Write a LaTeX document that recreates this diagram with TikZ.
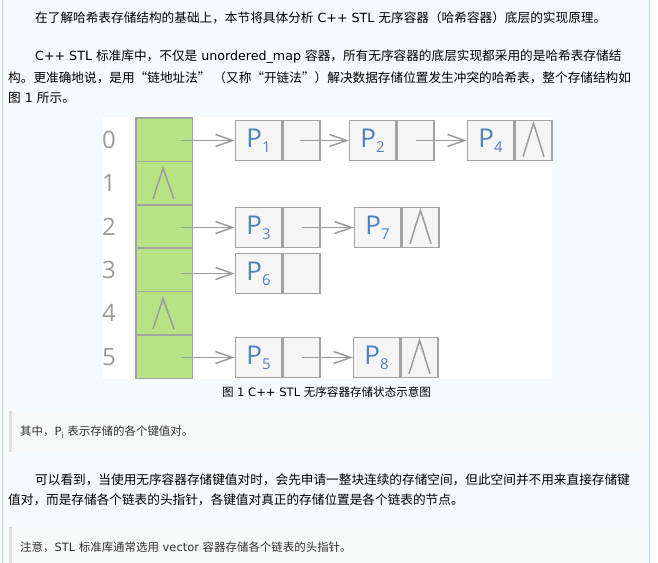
\documentclass[tikz,border=0pt]{standalone}
\usepackage{fontspec}
\setmainfont{DejaVu Sans}
\newfontfamily\cjk{Noto Sans CJK SC}
\newfontfamily\latf{DejaVu Sans}
\newfontfamily\figf{Open Sans}
\usetikzlibrary{arrows.meta,calc}
\newcommand\ltn[1]{{\latf #1}}
\newcommand\plab[1]{{\fontsize{26}{26}\selectfont P}\raisebox{-5bp}{\fontsize{15}{15}\selectfont #1}}
\definecolor{pagebg}{HTML}{F5FAFE}
\definecolor{borderc}{HTML}{B3D4F2}
\definecolor{quotebg}{HTML}{F7F8F8}
\definecolor{quotebar}{HTML}{DDDDDD}
\definecolor{qtext}{HTML}{333333}
\definecolor{gfill}{HTML}{B7E385}
\definecolor{boxfill}{HTML}{F5F5F5}
\definecolor{boxdraw}{HTML}{A3A3A3}
\definecolor{arrowc}{HTML}{9B9B9B}
\definecolor{pblue}{HTML}{4F81BD}
\definecolor{digitc}{HTML}{9B9B9B}
\begin{document}
\begin{tikzpicture}[x=1bp,y=-1bp,
  txt/.style={anchor=west,inner sep=0,font=\cjk\fontsize{12.7}{15}\selectfont,text=black},
  qtxt/.style={anchor=west,inner sep=0,font=\cjk\fontsize{11.5}{14}\selectfont,text=qtext},
  gcell/.style={draw=boxdraw,fill=gfill,line width=1.5bp,minimum width=56.5bp,minimum height=43.4bp,inner sep=0},
  dcell/.style={draw=boxdraw,fill=boxfill,line width=1.5bp,minimum width=46bp,minimum height=40bp,inner sep=0,anchor=west,font=\figf,text=pblue},
  pcell/.style={draw=boxdraw,fill=boxfill,line width=1.5bp,minimum width=37bp,minimum height=40bp,inner sep=0,anchor=west},
  idx/.style={font=\figf\fontsize{24}{24}\selectfont,text=digitc,inner sep=0},
  arr/.style={draw=arrowc,line width=1.5bp,-{Straight Barb[length=17bp,width=12bp,line width=1.5bp]}},
  nul/.style={draw=arrowc,line width=1.5bp,line join=miter},
  capt/.style={font=\cjk\fontsize{11.6}{14}\selectfont,text=black,inner sep=0}
]
\useasboundingbox (0,0) rectangle (658,563);
% page
\fill[white] (0,0) rectangle (658,563);
\fill[pagebg] (2,0) rectangle (649.5,563);
\draw[borderc,line width=1bp] (2,0) -- (2,563);
\draw[borderc,line width=1bp] (649.5,0) -- (649.5,563);
% text paragraph 1
\node[txt] (l1) at (35,18) {在了解哈希表存储结构的基础上，本节将具体分析\ltn{ C++ STL }无序容器（哈希容器）底层的实现原理。};
\node[txt] (l2) at (35,57) {\ltn{C++ STL }标准库中，不仅是\ltn{ unordered\_map }容器，所有无序容器的底层实现都采用的是哈希表存储结};
\node[txt] (l3) at (8,78) {构。更准确地说，是用“链地址法” （又称“开链法”）解决数据存储位置发生冲突的哈希表，整个存储结构如};
\node[txt] (l4) at (8,98) {图\ltn{ 1 }所示。};
% figure
\fill[white] (102,117) rectangle (552,379);
\foreach \i in {0,...,5} {
  \node[gcell] (g\i) at (164,{118+43.4*(\i+0.5)}) {};
  \node[idx] (n\i) at (109,{118+43.4*(\i+0.5)}) {\i};
}
% list nodes
\node[dcell] (P1d) at (234.75,140.5) {\plab{1}};
\node[pcell] (P1p) at (P1d.east) {};
\node[dcell] (P2d) at (348.75,140.5) {\plab{2}};
\node[pcell] (P2p) at (P2d.east) {};
\node[dcell] (P4d) at (466.75,140.5) {\plab{4}};
\node[pcell] (P4p) at (P4d.east) {};
\node[dcell] (P3d) at (234.75,227.5) {\plab{3}};
\node[pcell] (P3p) at (P3d.east) {};
\node[dcell] (P7d) at (353.75,227.5) {\plab{7}};
\node[pcell] (P7p) at (P7d.east) {};
\node[dcell] (P6d) at (234.75,273.5) {\plab{6}};
\node[pcell] (P6p) at (P6d.east) {};
\node[dcell] (P5d) at (234.75,357.5) {\plab{5}};
\node[pcell] (P5p) at (P5d.east) {};
\node[dcell] (P8d) at (352.75,357.5) {\plab{8}};
\node[pcell] (P8p) at (P8d.east) {};
% arrows from buckets
\draw[arr,shorten <=17bp] (P1d.west -| g0.center) -- (P1d.west);
\draw[arr,shorten <=17bp] (P3d.west -| g2.center) -- (P3d.west);
\draw[arr,shorten <=17bp] (P6d.west -| g3.center) -- (P6d.west);
\draw[arr,shorten <=17bp] (P5d.west -| g5.center) -- (P5d.west);
% arrows between list nodes
\draw[arr,shorten <=-2bp] (P1p.center) -- (P2d.west);
\draw[arr] (P2p.center) -- (P4d.west);
\draw[arr] (P3p.center) -- (P7d.west);
\draw[arr] (P5p.center) -- (P8d.west);
% null markers
\foreach \n in {P4p,P7p,P8p} {
  \draw[nul] ($(\n.south)+(-10.5,-4.5)$) -- ($(\n.north)+(0,3.5)$) -- ($(\n.south)+(10.5,-4.5)$);
}
\foreach \n in {g1,g4} {
  \draw[nul] ($(\n.south)+(-11,-6.5)$) -- ($(\n.north)+(-1,7.5)$) -- ($(\n.south)+(10,-6.5)$);
}
\node[capt] (cap) at (326.5,392) {图\ltn{ 1 C++ STL }无序容器存储状态示意图};
% quote 1
\fill[quotebg] (9,411) rectangle (642,452);
\fill[quotebar] (9,411) rectangle (12.3,452);
\node[qtxt] (q1) at (20,432) {其中，\ltn{P}\raisebox{-2.5bp}{\fontsize{8}{8}\selectfont\ltn{i}}\ltn{ }表示存储的各个键值对。};
% paragraph 2
\node[txt] (l5) at (35,480) {可以看到，当使用无序容器存储键值对时，会先申请一整块连续的存储空间，但此空间并不用来直接存储键};
\node[txt] (l6) at (8,500) {值对，而是存储各个链表的头指针，各键值对真正的存储位置是各个链表的节点。};
% quote 2
\fill[quotebg] (9,527) rectangle (642,563);
\fill[quotebar] (9,527) rectangle (12.3,563);
\node[qtxt] (q2) at (20,547) {注意，\ltn{STL }标准库通常选用\ltn{ vector }容器存储各个链表的头指针。};
\end{tikzpicture}
\end{document}
